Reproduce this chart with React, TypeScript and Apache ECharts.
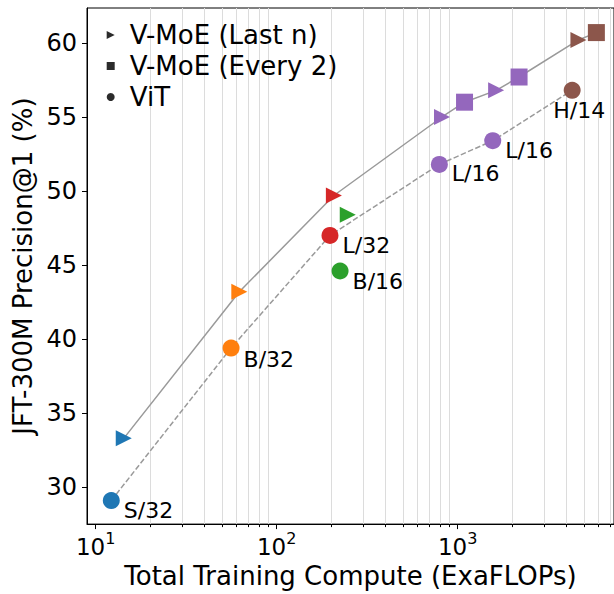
import React, { useEffect, useRef } from 'react';
import * as echarts from 'echarts';

const FONT = 'DejaVu Sans';

// ViT baselines (dense models)
const vitModels = ['S/32', 'B/32', 'L/32', 'B/16', 'L/16', 'L/16', 'H/14'];
const vitCompute = [12.2, 56, 197, 224, 792, 1562, 4290];
const vitPrecision = [29.1, 39.4, 47.0, 44.6, 51.8, 53.4, 56.8];

// V-MoE with experts in the last n layers
const lastNModels = ['S/32', 'B/32', 'L/32', 'B/16', 'L/16', 'L/16', 'H/14'];
const lastNCompute = [14.3, 62.2, 207, 247, 819, 1631, 4645];
const lastNPrecision = [33.3, 43.2, 49.7, 48.4, 55.0, 56.8, 60.2];

// V-MoE with experts in every other layer
const every2Models = ['L/16', 'L/16', 'H/14'];
const every2Compute = [1091, 2183, 5836];
const every2Precision = [56.0, 57.7, 60.7];

const yTicks = [30, 35, 40, 45, 50, 55, 60];
const xMajorTicks = [10, 100, 1000];
const xMinorTicks = [
  20, 30, 40, 50, 60, 70, 80, 90,
  200, 300, 400, 500, 600, 700, 800, 900,
  2000, 3000, 4000, 5000, 6000, 7000,
];

const modelColors: Record<string, string> = {
  'S/32': '#1f77b4',
  'B/32': '#ff7f0e',
  'L/32': '#d62728',
  'B/16': '#2ca02c',
  'L/16': '#9467bd',
  'H/14': '#8c564b',
};

// pixel offsets of the ViT model-name labels
const vitLabelOffsets: [number, number][] = [
  [0, 10], [0, 11], [0, 10], [0, 10], [0, 9.5], [0, 10], [-31.5, 20],
];

const TRIANGLE = 'path://M0,0L2,1L0,2Z';

type Pt = [number, number];

// upper-left frontier: points that beat every cheaper point
function paretoFront(xs: number[], ys: number[]): Pt[] {
  const pts = xs.map((x, i) => [x, ys[i]] as Pt).sort((a, b) => a[0] - b[0]);
  const out: Pt[] = [];
  let best = -Infinity;
  for (const p of pts) {
    if (p[1] > best) {
      out.push(p);
      best = p[1];
    }
  }
  return out;
}

const X_MIN = 8.958;
const X_MAX = 7303;
const Y_MIN = 27.51;
const Y_MAX = 62.36;

function buildOption() {
  const moeFront = paretoFront(
    [...lastNCompute, ...every2Compute],
    [...lastNPrecision, ...every2Precision],
  );
  const vitFront = paretoFront(vitCompute, vitPrecision);

  const points = (models: string[], xs: number[], ys: number[]) =>
    models.map((m, i) => ({
      value: [xs[i], ys[i]],
      itemStyle: { color: modelColors[m], opacity: 1 },
    }));

  const vitData = vitModels.map((m, i) => ({
    value: [vitCompute[i], vitPrecision[i]],
    name: m,
    itemStyle: { color: modelColors[m], opacity: 1 },
    label: { offset: vitLabelOffsets[i] },
  }));

  return {
    animation: false,
    grid: {
      left: 87,
      top: 8,
      right: -2,
      bottom: 64,
      show: true,
      borderColor: '#000',
      borderWidth: 1,
      backgroundColor: 'transparent',
    },
    legend: {
      orient: 'vertical',
      left: 106.7,
      top: 19.5,
      padding: 0,
      itemGap: 0,
      itemWidth: 8,
      itemHeight: 8,
      selectedMode: false,
      textStyle: {
        fontFamily: FONT,
        fontSize: 26,
        color: '#000',
        lineHeight: 31,
        padding: [0, 0, 0, 10],
      },
      data: [
        { name: 'V-MoE (Last n)', icon: TRIANGLE, itemStyle: { color: '#2b2b2b', opacity: 1 } },
        { name: 'V-MoE (Every 2)', icon: 'rect', itemStyle: { color: '#2b2b2b', opacity: 1 } },
        { name: 'ViT', icon: 'circle', itemStyle: { color: '#2b2b2b', opacity: 1 } },
      ],
    },
    xAxis: [
      {
        type: 'log',
        logBase: 10,
        min: X_MIN,
        max: X_MAX,
        axisLine: { show: true, onZero: false, lineStyle: { color: '#000', width: 1 } },
        axisTick: { show: true, length: 5, customValues: xMajorTicks, lineStyle: { color: '#000' } },
        axisLabel: {
          customValues: xMajorTicks,
          margin: 6,
          formatter: (v: number) => `{b|10}{e|${Math.round(Math.log10(v))}}`,
          rich: {
            b: { fontFamily: FONT, fontSize: 23, color: '#000', lineHeight: 28, verticalAlign: 'bottom' },
            e: { fontFamily: FONT, fontSize: 16, color: '#000', lineHeight: 8, verticalAlign: 'top' },
          },
        },
        splitLine: { show: false },
        name: 'Total Training Compute (ExaFLOPs)',
        nameLocation: 'middle',
        nameGap: 33,
        nameTextStyle: { fontFamily: FONT, fontSize: 26, color: '#000' },
      },
      {
        type: 'log',
        logBase: 10,
        min: X_MIN,
        max: X_MAX,
        position: 'bottom',
        axisLine: { show: false, onZero: false },
        axisTick: { show: true, length: 3, customValues: xMinorTicks, lineStyle: { color: '#000' } },
        axisLabel: { show: false },
        splitLine: { show: true, lineStyle: { color: '#dcdcdc', width: 1 } },
      },
    ],
    yAxis: {
      type: 'value',
      min: Y_MIN,
      max: Y_MAX,
      splitNumber: 7,
      axisLine: { show: true, onZero: false, lineStyle: { color: '#000', width: 1 } },
      axisTick: { show: true, length: 5, customValues: yTicks, lineStyle: { color: '#000' } },
      axisLabel: {
        customValues: yTicks,
        margin: 10,
        fontFamily: FONT,
        fontSize: 24,
        color: '#000',
      },
      splitLine: { show: false },
      name: 'JFT-300M Precision@1 (%)',
      nameLocation: 'middle',
      nameRotate: 90,
      nameGap: 41,
      nameTextStyle: { fontFamily: FONT, fontSize: 26, color: '#000' },
    },
    series: [
      {
        type: 'line',
        data: moeFront,
        symbol: 'none',
        silent: true,
        z: 1,
        lineStyle: { color: '#9a9a9a', width: 1.5 },
      },
      {
        type: 'line',
        data: vitFront,
        symbol: 'none',
        silent: true,
        z: 1,
        lineStyle: { color: '#9a9a9a', width: 1.5, type: [5.5, 2.4] },
      },
      {
        name: 'V-MoE (Last n)',
        type: 'scatter',
        symbol: TRIANGLE,
        symbolSize: 16,
        z: 3,
        itemStyle: { opacity: 1 },
        data: points(lastNModels, lastNCompute, lastNPrecision),
      },
      {
        name: 'V-MoE (Every 2)',
        type: 'scatter',
        symbol: 'rect',
        symbolSize: 17,
        z: 3,
        itemStyle: { opacity: 1 },
        data: points(every2Models, every2Compute, every2Precision),
      },
      {
        name: 'ViT',
        type: 'scatter',
        symbol: 'circle',
        symbolSize: 17,
        z: 3,
        itemStyle: { opacity: 1 },
        data: vitData,
        label: {
          show: true,
          position: 'right',
          distance: 4,
          formatter: '{b}',
          fontFamily: FONT,
          fontSize: 22,
          color: '#000',
          opacity: 1,
        },
      },
    ],
  };
}

export default function App() {
  const ref = useRef<HTMLDivElement>(null);
  useEffect(() => {
    if (!ref.current) return;
    const chart = echarts.init(ref.current, undefined, { renderer: 'svg' });
    chart.setOption(buildOption() as any);
    return () => chart.dispose();
  }, []);
  return (
    <div
      ref={ref}
      style={{ position: 'absolute', left: 0, top: 0, width: 614, height: 594, background: '#fff' }}
    />
  );
}
